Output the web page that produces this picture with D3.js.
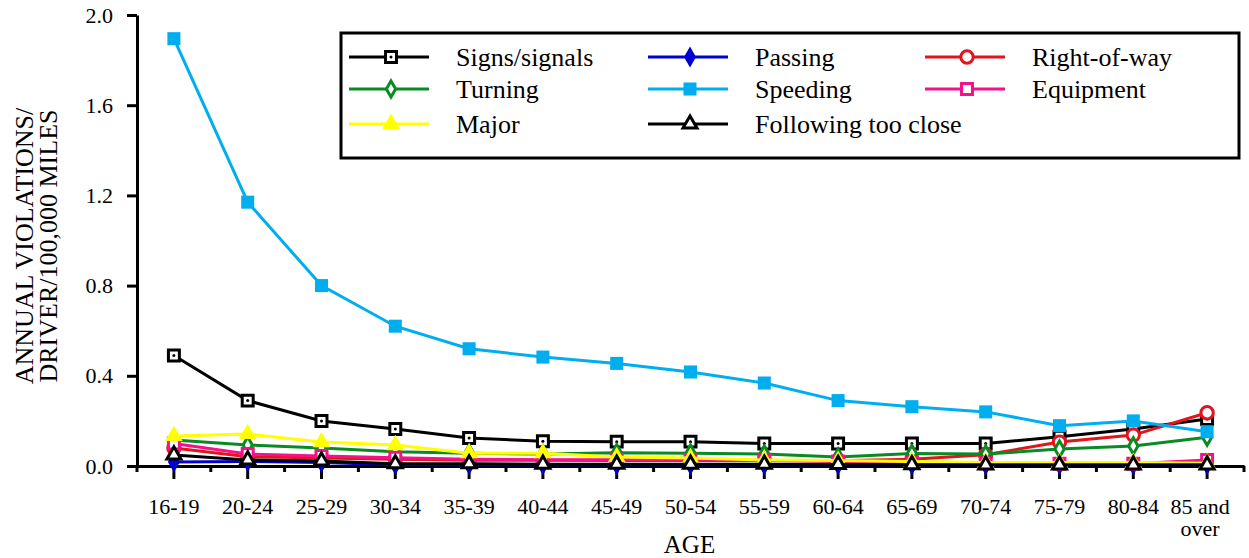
<!DOCTYPE html>
<html>
<head>
<meta charset="utf-8">
<script src="https://cdn.jsdelivr.net/npm/d3@7"></script>
<style>
  body { margin: 0; background: #fff; }
  svg text { font-family: 'Liberation Serif', 'Times New Roman', Times, 'DejaVu Serif', serif !important; fill: #000; }
  .axis path, .axis line { stroke: #000; stroke-width: 3; }
  .axis text { font-size: 22px; }
</style>
</head>
<body>
<div id="chart"></div>
<script>
var ages = ["16-19","20-24","25-29","30-34","35-39","40-44","45-49","50-54","55-59","60-64","65-69","70-74","75-79","80-84","85 and over"];
var yTicks = [0, 0.4, 0.8, 1.2, 1.6, 2.0];

var signs      = [0.49, 0.29, 0.20, 0.164, 0.124, 0.11, 0.108, 0.108, 0.10, 0.10, 0.10, 0.10, 0.13, 0.164, 0.208];
var passing    = [0.018, 0.02, 0.015, 0.006, 0.006, 0.005, 0.005, 0.005, 0.005, 0.005, 0.005, 0.005, 0.005, 0.005, 0.005];
var rightOfWay = [0.08, 0.041, 0.036, 0.03, 0.025, 0.025, 0.024, 0.024, 0.024, 0.023, 0.03, 0.05, 0.106, 0.137, 0.236];
var turning    = [0.115, 0.093, 0.08, 0.063, 0.056, 0.053, 0.059, 0.057, 0.053, 0.04, 0.055, 0.053, 0.075, 0.089, 0.128];
var speeding   = [1.895, 1.17, 0.80, 0.62, 0.52, 0.483, 0.455, 0.417, 0.368, 0.29, 0.263, 0.24, 0.179, 0.2, 0.152];
var equipment  = [0.1, 0.053, 0.044, 0.037, 0.03, 0.028, 0.028, 0.027, 0.025, 0.02, 0.015, 0.012, 0.01, 0.01, 0.027];
var major      = [0.133, 0.142, 0.106, 0.093, 0.057, 0.057, 0.04, 0.035, 0.027, 0.024, 0.02, 0.015, 0.015, 0.015, 0.012];
var following  = [0.049, 0.027, 0.022, 0.01, 0.01, 0.008, 0.008, 0.008, 0.008, 0.007, 0.006, 0.005, 0.005, 0.005, 0.005];

// legend order (row by row) and drawing order are different
var series = [
  {name: "Signs/signals", values: signs, color: "#000000", shape: "square", fill: "#fff", dot: true, col: 0, row: 0, z: 0},
  {name: "Passing", values: passing, color: "#0000d0", shape: "diamond", fill: "#0000d0", col: 1, row: 0, z: 1},
  {name: "Right-of-way", values: rightOfWay, color: "#e3141c", shape: "circle", fill: "#fff", col: 2, row: 0, z: 2},
  {name: "Turning", values: turning, color: "#0a8a22", shape: "diamond", fill: "#fff", col: 0, row: 1, z: 3},
  {name: "Speeding", values: speeding, color: "#00aeef", shape: "square", fill: "#00aeef", col: 1, row: 1, z: 4},
  {name: "Equipment", values: equipment, color: "#f5118a", shape: "square", fill: "#fff", col: 2, row: 1, z: 5},
  {name: "Major", values: major, color: "#ffff00", shape: "triangle", fill: "#ffff00", col: 0, row: 2, z: 6},
  {name: "Following too close", values: following, color: "#000000", shape: "triangle", fill: "#fff", col: 1, row: 2, z: 7}
];

var W = 1249, H = 558;
var pArea = [137, 15, 1244, 466];
var serif = "'Liberation Serif', 'Times New Roman', Times, 'DejaVu Serif', serif";

var svg = d3.select("#chart").append("svg")
  .attr("width", W).attr("height", H)
  .attr("font-family", serif);

var x = d3.scaleBand().domain(ages).range([pArea[0], pArea[2]]);
var y = d3.scaleLinear().domain([0, 2.0]).range([pArea[3], pArea[1]]);

function xc(a) { return x(a) + x.bandwidth() / 2; }

var symbols = {
  square: d3.symbolSquare,
  diamond: d3.symbolDiamond,
  circle: d3.symbolCircle,
  triangle: d3.symbolTriangle
};
var sizes = { square: 120, diamond: 75, circle: 120, triangle: 85 };

function drawMarker(g, s, cx, cy) {
  var filled = s.fill !== "#fff";
  g.append("path")
    .attr("transform", "translate(" + cx + "," + cy + ")")
    .attr("d", d3.symbol().type(symbols[s.shape]).size(filled ? sizes[s.shape] + 50 : sizes[s.shape])())
    .attr("fill", s.fill)
    .attr("stroke", filled ? "none" : s.color)
    .attr("stroke-width", 3);
  if (s.dot) {
    g.append("circle").attr("cx", cx).attr("cy", cy).attr("r", 1.5).attr("fill", s.color);
  }
}

// x axis
var gx = svg.append("g")
  .attr("class", "axis")
  .attr("transform", "translate(0," + pArea[3] + ")")
  .call(d3.axisBottom(x).tickSize(13).tickPadding(19).tickSizeOuter(0));
gx.attr("font-family", serif).attr("font-size", 22);
gx.selectAll(".tick text").each(function(d) {
  var t = d3.select(this);
  var words = d === "85 and over" ? ["85 and", "over"] : [d];
  var shift = words.length > 1 ? -7 : 0;
  t.text(null);
  words.forEach(function(w, i) {
    t.append("tspan").attr("x", shift).attr("dy", i === 0 ? "0.71em" : "1.0em").text(w);
  });
});
// boundary ticks between age groups
gx.selectAll(".minor")
  .data(ages.concat(["end"]))
  .enter().append("line")
  .attr("class", "minor")
  .attr("x1", function(d) { return d === "end" ? pArea[2] : x(d); })
  .attr("x2", function(d) { return d === "end" ? pArea[2] : x(d); })
  .attr("y1", 0).attr("y2", 6)
  .attr("stroke", "#000").attr("stroke-width", 3);

// y axis
svg.append("g")
  .attr("class", "axis")
  .attr("transform", "translate(" + pArea[0] + ",0)")
  .call(d3.axisLeft(y).tickValues(yTicks).tickFormat(d3.format(".1f")).tickSize(10).tickPadding(14).tickSizeOuter(0))
  .attr("font-family", serif).attr("font-size", 22);

// axis titles
svg.append("text")
  .attr("x", (pArea[0] + pArea[2]) / 2 - 1)
  .attr("y", 553)
  .attr("text-anchor", "middle")
  .style("font-size", "25px")
  .text("AGE");

var yl = svg.append("text")
  .attr("transform", "translate(33,246) rotate(-90)")
  .attr("text-anchor", "middle")
  .style("font-size", "26px");
yl.append("tspan").attr("x", 0).attr("dy", 0).text("ANNUAL VIOLATIONS/");
yl.append("tspan").attr("x", 0).attr("dy", 24).text("DRIVER/100,000 MILES");

// lines and markers
var line = d3.line()
  .x(function(d, i) { return xc(ages[i]); })
  .y(function(d) { return y(d); });

var ordered = series.slice().sort(function(a, b) { return a.z - b.z; });
ordered.forEach(function(s) {
  var g = svg.append("g");
  g.append("path")
    .datum(s.values)
    .attr("d", line)
    .attr("fill", "none")
    .attr("stroke", s.color)
    .attr("stroke-width", 3);
  s.values.forEach(function(v, i) {
    drawMarker(g, s, xc(ages[i]), y(v));
  });
});

// legend
var lg = svg.append("g");
lg.append("rect")
  .attr("x", 341).attr("y", 33)
  .attr("width", 898).attr("height", 125)
  .attr("fill", "#fff").attr("stroke", "#000").attr("stroke-width", 3);

var colX = [349, 648, 925];
var rowY = [57, 89, 124];
series.forEach(function(s) {
  var lx = colX[s.col], ly = rowY[s.row];
  lg.append("line")
    .attr("x1", lx).attr("x2", lx + 80)
    .attr("y1", ly).attr("y2", ly)
    .attr("stroke", s.color).attr("stroke-width", 3);
  drawMarker(lg, s, lx + 42, ly);
  lg.append("text")
    .attr("x", lx + 107)
    .attr("y", ly + 9)
    .style("font-size", "26px")
    .text(s.name);
});
</script>
</body>
</html>
